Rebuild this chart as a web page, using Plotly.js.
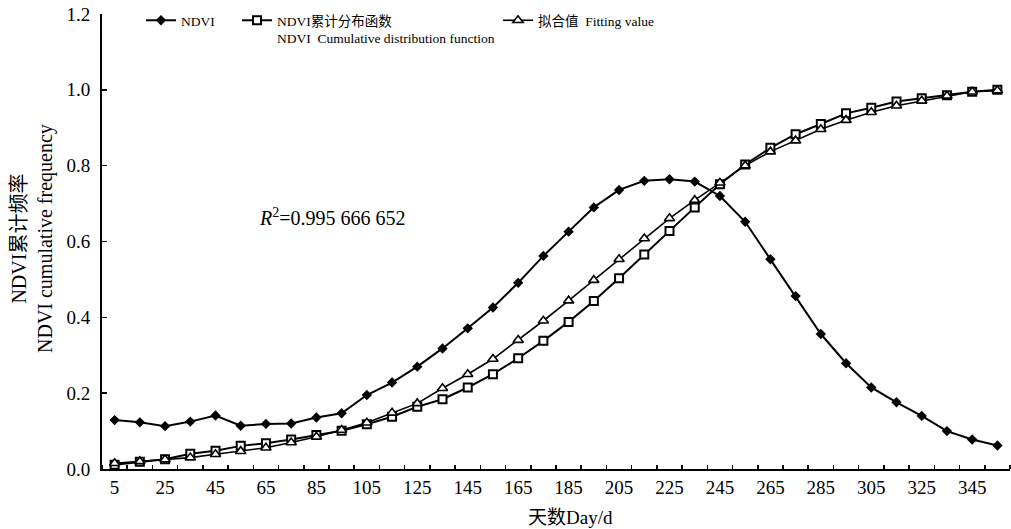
<!DOCTYPE html>
<html><head><meta charset="utf-8">
<script src="https://cdn.plot.ly/plotly-3.0.1.min.js"></script>
<style>html,body{margin:0;padding:0;background:#fff}#chart{width:1011px;height:529px}</style>
</head><body><div id="chart"></div>
<script>
const days = [5,15,25,35,45,55,65,75,85,95,105,115,125,135,145,155,165,175,185,195,205,215,225,235,245,255,265,275,285,295,305,315,325,335,345,355];
const ndvi = [0.129,0.123,0.113,0.125,0.141,0.114,0.119,0.120,0.136,0.147,0.195,0.228,0.270,0.318,0.371,0.426,0.491,0.562,0.626,0.690,0.736,0.760,0.764,0.758,0.720,0.652,0.553,0.456,0.356,0.279,0.215,0.176,0.140,0.100,0.078,0.062];
const cdf = [0.011,0.019,0.026,0.040,0.048,0.061,0.068,0.078,0.090,0.101,0.118,0.138,0.164,0.184,0.215,0.250,0.292,0.338,0.388,0.443,0.503,0.566,0.628,0.690,0.751,0.803,0.847,0.883,0.910,0.938,0.953,0.969,0.978,0.986,0.995,1.000];
const fit = [0.015,0.020,0.025,0.030,0.039,0.047,0.056,0.070,0.085,0.103,0.122,0.148,0.173,0.213,0.250,0.290,0.340,0.391,0.444,0.498,0.553,0.608,0.661,0.709,0.755,0.800,0.837,0.866,0.896,0.920,0.941,0.958,0.971,0.984,0.995,0.998];
const xTickVals = [5,25,45,65,85,105,125,145,165,185,205,225,245,265,285,305,325,345];
const yTickVals = [0,0.2,0.4,0.6,0.8,1.0,1.2];
const seriesNames = ['NDVI', 'NDVI累计分布函数<br>NDVI  Cumulative distribution function', '拟合值  Fitting value'];
const xTitle = '天数Day/d';
const yTitle = 'NDVI累计频率<br>NDVI cumulative frequency';
const r2Text = '<i>R</i><sup>2</sup>=0.995 666 652';

const FONT = 'Liberation Serif, Times New Roman, Noto Sans CJK SC, serif';

const traces = [
  {x: days, y: ndvi, name: seriesNames[0], mode: 'lines+markers', legend: 'legend',
   line: {color: '#000', width: 2}, marker: {symbol: 'diamond', size: 8, color: '#000'}},
  {x: days, y: cdf, name: seriesNames[1], mode: 'lines+markers', legend: 'legend2',
   line: {color: '#000', width: 2}, marker: {symbol: 'square', size: 8, color: '#fff', line: {color: '#000', width: 2}}},
  {x: days, y: fit, name: seriesNames[2], mode: 'lines+markers', legend: 'legend3',
   line: {color: '#000', width: 1.6}, marker: {symbol: 'triangle-up', size: 9, color: '#fff', line: {color: '#000', width: 1.6}}}
];

const legBase = {xref: 'container', yref: 'container', xanchor: 'left', yanchor: 'top',
  bgcolor: 'rgba(0,0,0,0)', borderwidth: 0, font: {family: FONT, size: 13.5, color: '#000'}, itemwidth: 30};

const layout = {
  width: 1011, height: 529,
  margin: {l: 102, r: 1, t: 14, b: 60, autoexpand: false},
  paper_bgcolor: '#fff', plot_bgcolor: '#fff',
  font: {family: FONT, color: '#000'},
  showlegend: true,
  legend: Object.assign({}, legBase, {x: 141/1011, y: 1 - 5/529}),
  legend2: Object.assign({}, legBase, {x: 237/1011, y: 1 - 5/529, valign: 'top'}),
  legend3: Object.assign({}, legBase, {x: 498/1011, y: 1 - 5/529}),
  xaxis: {
    range: [0, 360], tickmode: 'array', tickvals: xTickVals, ticks: '', tickangle: 0,
    showline: true, linewidth: 2, linecolor: '#000', showgrid: false, zeroline: false,
    tickfont: {family: FONT, size: 19, color: '#000'}, ticklabelstandoff: 0,
    minor: {ticks: 'inside', tickmode: 'linear', tick0: 0, dtick: 10, ticklen: 4, tickwidth: 1.5, tickcolor: '#000', showgrid: false}
  },
  yaxis: {
    range: [0, 1.2], tickmode: 'array', tickvals: yTickVals, tickformat: '.1f',
    ticks: 'inside', ticklen: 5, tickwidth: 1.5, tickcolor: '#000',
    showline: true, linewidth: 2, linecolor: '#000', showgrid: false, zeroline: false,
    tickfont: {family: FONT, size: 19, color: '#000'}, ticklabelstandoff: 6
  },
  annotations: [
    {x: 61.5, y: 0.665, xref: 'x', yref: 'y', xanchor: 'left', yanchor: 'middle', showarrow: false,
     text: r2Text, font: {family: FONT, size: 20, color: '#000'}},
    {x: (570 - 102) / 908, y: (469 - 517) / 455, xref: 'paper', yref: 'paper', xanchor: 'center', yanchor: 'middle',
     showarrow: false, text: xTitle, font: {family: FONT, size: 19, color: '#000'}},
    {x: (32 - 102) / 908, y: (469 - 239) / 455, xref: 'paper', yref: 'paper', xanchor: 'center', yanchor: 'middle',
     showarrow: false, textangle: -90, text: yTitle, font: {family: FONT, size: 20, color: '#000'}}
  ]
};

Plotly.newPlot('chart', traces, layout, {displayModeBar: false, staticPlot: true});
</script>
</body></html>
